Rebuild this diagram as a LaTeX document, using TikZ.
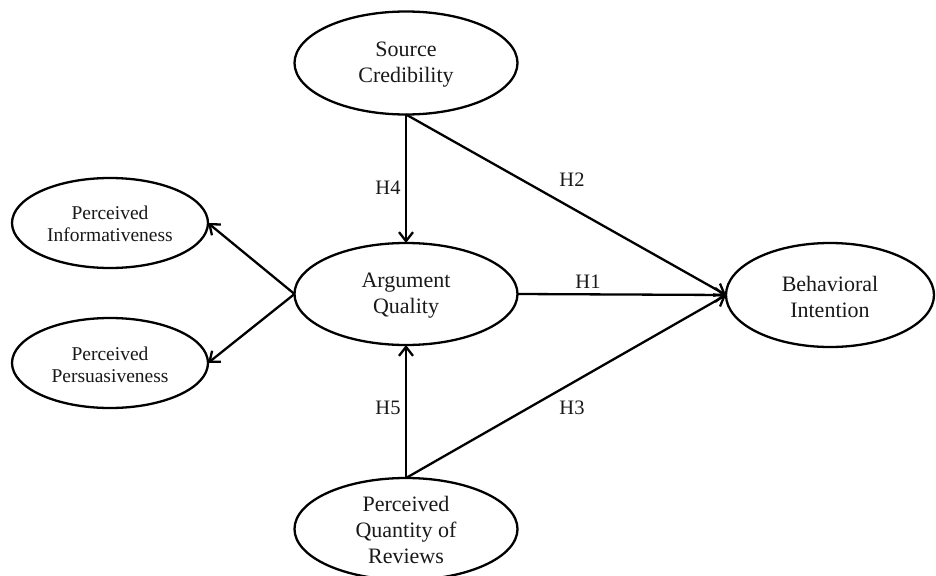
\documentclass[tikz,border=0pt]{standalone}
\usepackage{fontspec}
\setmainfont{Liberation Serif}
\usetikzlibrary{shapes.geometric,arrows.meta}
\begin{document}
\begin{tikzpicture}[x=1pt,y=-1pt,
 ell/.style={draw=black,line width=2.3pt,ellipse,inner sep=0pt,outer sep=0pt},
 big/.style={align=center,font=\fontsize{22}{26}\selectfont,inner sep=0pt,text=black!90},
 small/.style={align=center,font=\fontsize{19.5}{22.5}\selectfont,inner sep=0pt,text=black!90},
 hyp/.style={font=\fontsize{20.5}{24}\selectfont,inner sep=0pt,text=black!90},
 arr/.style={line width=2.3pt,-{Straight Barb[length=9pt,width=14pt,line width=2.3pt]}},
 ln/.style={line width=2.3pt}]
\useasboundingbox (0,0) rectangle (936,575);
\fill[white] (0,0) rectangle (936,575);
% ellipses
\node[ell,minimum width=223pt,minimum height=103pt] (sc) at (406,63) {};
\node[ell,minimum width=223pt,minimum height=102pt] (aq) at (406,294) {};
\node[ell,minimum width=208pt,minimum height=104pt] (bi) at (830,295) {};
\node[ell,minimum width=196pt,minimum height=90pt] (pi) at (110,223) {};
\node[ell,minimum width=196pt,minimum height=90pt] (pp) at (110,363) {};
\node[ell,minimum width=223pt,minimum height=102pt] (pqr) at (406,529) {};
% texts
\node[big] (sct) at (406,65) {Source\\Credibility};
\node[big] (aqt) at (406,296) {Argument\\Quality};
\node[big] (bit) at (830,297) {Behavioral\\Intention};
\node[small] (pit) at (110,224) {Perceived\\Informativeness};
\node[small] (ppt) at (110,365) {Perceived\\Persuasiveness};
\node[big] (pqrt) at (406,530) {Perceived\\Quantity of\\Reviews};
% connectors
\draw[arr] (sc.south) -- (aq.north);
\draw[arr] (sc.south) -- (bi.west);
\draw[arr] (aq.east) -- (bi.west);
\draw[arr] (pqr.north) -- (bi.west);
\draw[arr] (pqr.north) -- (aq.south);
\draw[arr] (aq.west) -- (pi.east);
\draw[arr] (aq.west) -- (pp.east);
% labels
\node[hyp] (h4) at (388,188) {H4};
\node[hyp] (h2) at (572,180) {H2};
\node[hyp] (h1) at (588,282) {H1};
\node[hyp] (h5) at (388,408) {H5};
\node[hyp] (h3) at (572,408) {H3};
\end{tikzpicture}
\end{document}
